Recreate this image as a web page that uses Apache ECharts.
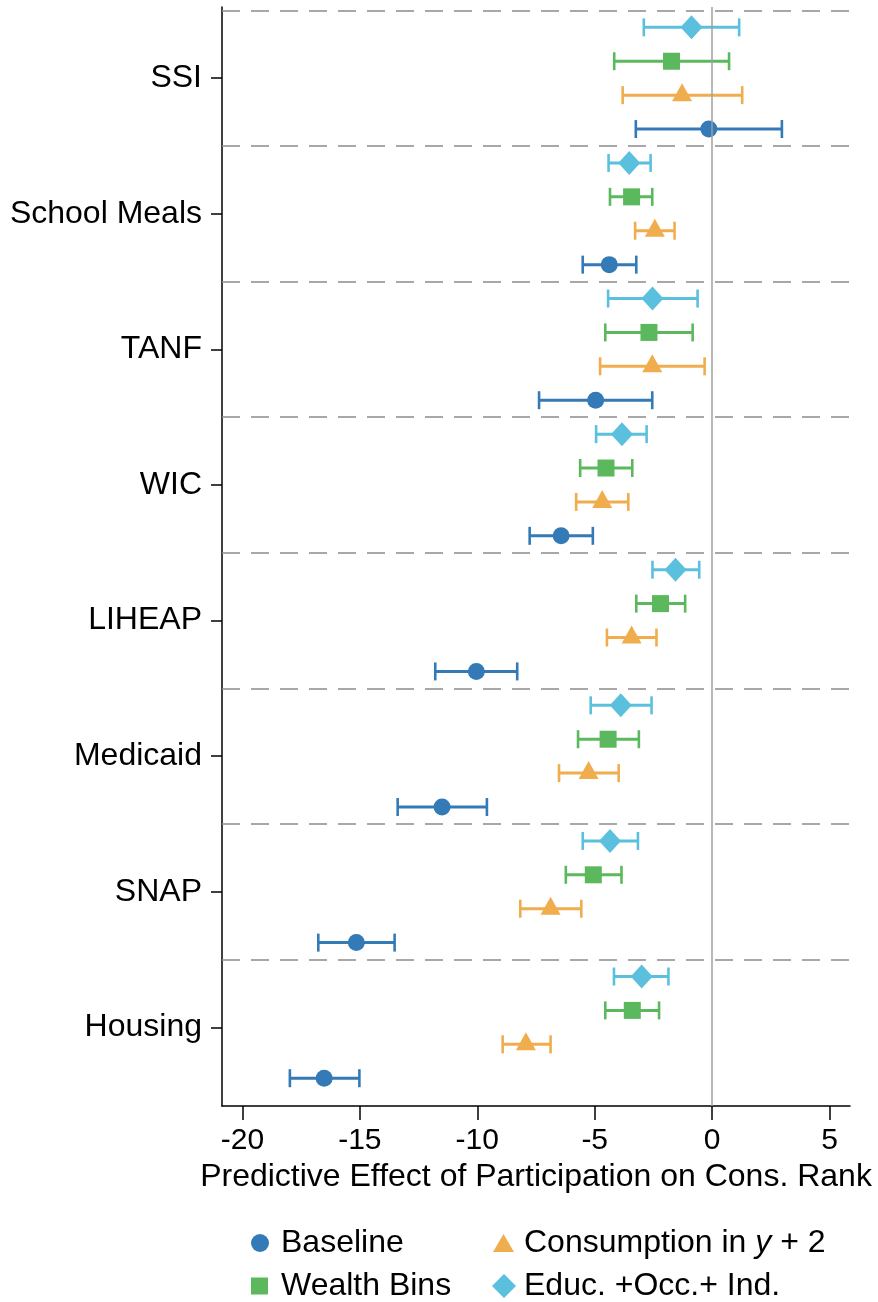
<!DOCTYPE html>
<html>
<head>
<meta charset="utf-8">
<script src="https://cdn.jsdelivr.net/npm/echarts@6/dist/echarts.min.js"></script>
<style>
  html, body { margin: 0; padding: 0; background: #fff; }
  #chart { width: 878px; height: 1302px; }
</style>
</head>
<body>
<div id="chart"></div>
<script>
// Programs, listed top to bottom
const programs = ['SSI', 'School Meals', 'TANF', 'WIC', 'LIHEAP', 'Medicaid', 'SNAP', 'Housing'];

// Baseline specification
const baselineEst = [-0.14, -4.38, -4.96, -6.43, -10.04, -11.50, -15.15, -16.52];
const baselineLo  = [-3.25, -5.51, -7.37, -7.77, -11.79, -13.39, -16.77, -17.98];
const baselineHi  = [ 2.97, -3.23, -2.55, -5.08,  -8.30,  -9.59, -13.52, -15.02];

// Wealth bins controls
const wealthEst = [-1.73, -3.43, -2.69, -4.52, -2.20, -4.43, -5.06, -3.40];
const wealthLo  = [-4.17, -4.35, -4.55, -5.62, -3.23, -5.71, -6.23, -4.55];
const wealthHi  = [ 0.72, -2.55, -0.83, -3.40, -1.15, -3.12, -3.86, -2.26];

// Consumption measured in y + 2
const consEst = [-1.28, -2.44, -2.55, -4.68, -3.43, -5.26, -6.88, -7.93];
const consLo  = [-3.81, -3.28, -4.77, -5.79, -4.48, -6.52, -8.17, -8.92];
const consHi  = [ 1.28, -1.60, -0.32, -3.57, -2.37, -3.98, -5.57, -6.88];

// Education + occupation + industry controls
const educEst = [-0.88, -3.53, -2.54, -3.84, -1.56, -3.89, -4.35, -3.00];
const educLo  = [-2.91, -4.41, -4.43, -4.94, -2.54, -5.17, -5.51, -4.18];
const educHi  = [ 1.15, -2.62, -0.62, -2.79, -0.55, -2.58, -3.16, -1.86];

// X-axis tick labels
const xTicks = [-20, -15, -10, -5, 0, 5];

const FONT = '"Liberation Sans", Arial, Helvetica, sans-serif';
const GROUP = 4; // rows per program block

const specs = [
  { name: 'Baseline', est: baselineEst, lo: baselineLo, hi: baselineHi, row: 3.5,
    color: '#337ab7', symbol: 'circle', size: 17, offset: [0, 0],
    legend: { left: 246, top: 1221, w: 18, h: 18, pad: 7 } },
  { name: 'Wealth Bins', est: wealthEst, lo: wealthLo, hi: wealthHi, row: 1.5,
    color: '#5cb85c', symbol: 'rect', size: 17, offset: [0, 0],
    legend: { left: 246, top: 1264, w: 17, h: 17, pad: 8 } },
  { name: 'Consumption in y + 2', est: consEst, lo: consLo, hi: consHi, row: 2.5,
    color: '#f0ad4e', symbol: 'triangle', size: [20, 18], offset: [0, -3],
    legend: { left: 488, top: 1221, w: 21, h: 18, pad: 5 } },
  { name: 'Educ. +Occ.+ Ind.', est: educEst, lo: educLo, hi: educHi, row: 0.5,
    color: '#5bc0de', symbol: 'diamond', size: [22, 24], offset: [0, 0],
    legend: { left: 487, top: 1264, w: 24, h: 24, pad: 3 } }
];

const groupLines = programs.map((p, i) => ({ yAxis: i * GROUP }));
const labelPos = programs.map((p, i) => i * GROUP + 2);

function errorBar(color) {
  return function (params, api) {
    const a = api.coord([api.value(0), api.value(2)]);
    const b = api.coord([api.value(1), api.value(2)]);
    const cap = 9;
    const capStyle = { stroke: color, lineWidth: 2.6 };
    return {
      type: 'group',
      children: [
        { type: 'line', shape: { x1: a[0], y1: a[1], x2: b[0], y2: b[1] }, style: { stroke: color, lineWidth: 3 } },
        { type: 'line', shape: { x1: a[0], y1: a[1] - cap, x2: a[0], y2: a[1] + cap }, style: capStyle },
        { type: 'line', shape: { x1: b[0], y1: b[1] - cap, x2: b[0], y2: b[1] + cap }, style: capStyle }
      ]
    };
  };
}

const series = [];
specs.forEach((s, k) => {
  const bar = {
    name: s.name + ' CI',
    type: 'custom',
    renderItem: errorBar(s.color),
    encode: { x: [0, 1], y: 2 },
    data: programs.map((p, i) => [s.lo[i], s.hi[i], i * GROUP + s.row]),
    z: 2,
    silent: true
  };
  if (k === 0) {
    bar.markLine = {
      silent: true,
      symbol: 'none',
      label: { show: false },
      animation: false,
      data: groupLines.map(d => ({
        yAxis: d.yAxis,
        lineStyle: { type: [18, 11], color: '#8c8c8c', width: 1.5 }
      })).concat([{ xAxis: 0, lineStyle: { type: 'solid', color: '#a0a0a0', width: 1.5 } }])
    };
  }
  series.push(bar);
});
specs.forEach(s => {
  series.push({
    name: s.name,
    type: 'scatter',
    symbol: s.symbol,
    symbolSize: s.size,
    symbolOffset: s.offset,
    itemStyle: { color: s.color, opacity: 1 },
    data: programs.map((p, i) => [s.est[i], i * GROUP + s.row]),
    z: 3
  });
});

const legendFormat = name =>
  name === 'Consumption in y + 2' ? '{n|Consumption in }{it|y}{n| + 2}' : name;

// One legend block per entry, arranged as a 2 x 2 grid
const legends = specs.map(s => ({
  data: [s.name],
  orient: 'horizontal',
  left: s.legend.left,
  top: s.legend.top,
  itemWidth: s.legend.w,
  itemHeight: s.legend.h,
  textStyle: {
    color: '#000',
    fontFamily: FONT,
    fontSize: 32,
    lineHeight: 34,
    padding: [0, 0, 0, s.legend.pad],
    rich: {
      n: { fontFamily: FONT, fontSize: 32, color: '#000' },
      it: { fontFamily: FONT, fontSize: 32, color: '#000', fontStyle: 'italic' }
    }
  },
  formatter: legendFormat,
  selectedMode: false
}));

const chart = echarts.init(document.getElementById('chart'), null, { renderer: 'canvas' });
chart.setOption({
  animation: false,
  backgroundColor: '#fff',
  grid: { left: 222, right: 28, top: 7, bottom: 196, containLabel: false },
  xAxis: {
    type: 'value',
    min: -20.87,
    max: 5.87,
    name: 'Predictive Effect of Participation on Cons. Rank',
    nameLocation: 'middle',
    nameGap: 55,
    nameTextStyle: { fontFamily: FONT, fontSize: 32, color: '#000' },
    axisLine: { show: true, onZero: false, lineStyle: { color: '#000', width: 1.5 } },
    axisTick: { show: true, length: 14, customValues: xTicks, lineStyle: { color: '#000', width: 1.5 } },
    axisLabel: { customValues: xTicks, fontFamily: FONT, fontSize: 30, color: '#000', margin: 20 },
    splitLine: { show: false }
  },
  yAxis: {
    type: 'value',
    inverse: true,
    min: -0.1,
    max: 32.32,
    axisLine: { show: true, onZero: false, lineStyle: { color: '#000', width: 1.5 } },
    axisTick: { show: true, length: 11, customValues: labelPos, lineStyle: { color: '#000', width: 1.5 } },
    axisLabel: {
      customValues: labelPos,
      formatter: v => programs[Math.round((v - 2) / GROUP)],
      fontFamily: FONT, fontSize: 32, color: '#000', margin: 20
    },
    splitLine: { show: false }
  },
  legend: legends,
  series
});
</script>
</body>
</html>
